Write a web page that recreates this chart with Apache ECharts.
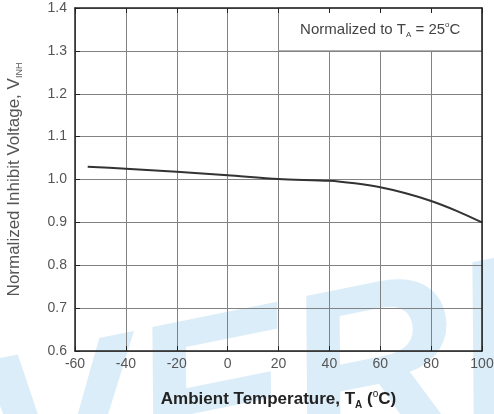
<!DOCTYPE html>
<html>
<head>
<meta charset="utf-8">
<script src="https://cdn.jsdelivr.net/npm/echarts@6/dist/echarts.min.js"></script>
<style>
  html,body{margin:0;padding:0;background:#fff;}
  #chart{width:494px;height:414px;}
</style>
</head>
<body>
<div id="chart"></div>
<script>
// curve
const temps=[-55,-40,-20,0,20,40,50,60,70,80,90,100];
const vinh=[1.030,1.025,1.018,1.010,1.001,0.997,0.991,0.982,0.968,0.950,0.927,0.900];
const xTicks=[-60,-40,-20,0,20,40,60,80,100];
const yTicks=[0.6,0.7,0.8,0.9,1.0,1.1,1.2,1.3,1.4];

const chartDom=document.getElementById('chart');
const myChart=echarts.init(chartDom);

const labelFont={fontFamily:'Liberation Sans',fontSize:14,color:'#555'};

const option={
    animation:false,
    backgroundColor:'#fff',
    graphic:[
        {
            // faint watermark behind the plot
            type:'text',
            z:-10,
            x:-40,
            y:345,
            rotation:0.2,
            style:{
                text:'VERI',
                fill:'#dbedf9',
                font:'italic bold 235px Liberation Sans'
            }
        }
    ],
    grid:{left:75,right:12,top:8,bottom:63,outerBoundsMode:'none'},
    xAxis:[
        {
            type:'value',
            min:-60,max:100,interval:20,
            axisLine:{show:true,onZero:false,lineStyle:{color:'#222',width:1.5}},
            axisTick:{show:true,inside:true,length:5,lineStyle:{color:'#222'}},
            axisLabel:{...labelFont,margin:6,formatter:v=>xTicks.includes(v)?String(v):''},
            splitLine:{show:true,lineStyle:{color:'#828282',width:1}},
            name:'{b|Ambient Temperature, T}{sub|A}{b| (}{sup|o}{b|C)}',
            nameLocation:'middle',
            nameGap:38,
            nameTextStyle:{
                rich:{
                    b:{fontFamily:'Liberation Sans',fontSize:17,fontWeight:'bold',color:'#222'},
                    sub:{fontFamily:'Liberation Sans',fontSize:10,fontWeight:'bold',color:'#222',verticalAlign:'bottom',padding:[11,0,0,0]},
                    sup:{fontFamily:'Liberation Sans',fontSize:10,color:'#222',verticalAlign:'top',padding:[0,0,11,0]}
                }
            }
        },
        {
            type:'value',
            position:'top',
            z:10,
            min:-60,max:100,interval:20,
            axisLine:{show:true,onZero:false,lineStyle:{color:'#222',width:1.5}},
            axisTick:{show:true,inside:true,length:5,lineStyle:{color:'#222'}},
            axisLabel:{show:false},
            splitLine:{show:false}
        }
    ],
    yAxis:[
        {
            type:'value',
            min:0.6,max:1.4,interval:0.1,
            axisLine:{show:true,onZero:false,lineStyle:{color:'#222',width:1.5}},
            axisTick:{show:true,inside:true,length:5,lineStyle:{color:'#222'}},
            axisLabel:{...labelFont,margin:8,formatter:v=>v.toFixed(1)},
            splitLine:{show:true,lineStyle:{color:'#828282',width:1}},
            name:'{t|Normalized Inhibit Voltage, V}{sub|INH}',
            nameLocation:'middle',
            nameGap:51,
            nameTextStyle:{
                rich:{
                    t:{fontFamily:'Liberation Sans',fontSize:17,color:'#555'},
                    sub:{fontFamily:'Liberation Sans',fontSize:9,color:'#555',verticalAlign:'bottom',padding:[11,0,0,0]}
                }
            }
        },
        {
            type:'value',
            position:'right',
            z:10,
            min:0.6,max:1.4,interval:0.1,
            axisLine:{show:true,onZero:false,lineStyle:{color:'#222',width:1.5}},
            axisTick:{show:false},
            axisLabel:{show:false},
            splitLine:{show:false}
        }
    ],
    series:[
        {
            name:'VINH',
            type:'line',
            symbol:'none',
            smooth:0.3,
            lineStyle:{color:'#333',width:2},
            data:temps.map((t,i)=>[t,vinh[i]]),
            markArea:{
                silent:true,
                itemStyle:{color:'#fff',borderColor:'#828282',borderWidth:1},
                label:{
                    show:true,
                    position:'inside',
                    formatter:'{t|Normalized to T}{sub|A}{t| = 25}{sup|o}{t|C}',
                    rich:{
                        t:{fontFamily:'Liberation Sans',fontSize:15,color:'#444'},
                        sub:{fontFamily:'Liberation Sans',fontSize:8,color:'#444',verticalAlign:'bottom',padding:[10,0,0,0]},
                        sup:{fontFamily:'Liberation Sans',fontSize:8,color:'#444',verticalAlign:'top',padding:[0,0,10,0]}
                    }
                },
                data:[[{coord:[20,1.4]},{coord:[100,1.3]}]]
            }
        }
    ]
};

myChart.setOption(option);
</script>
</body>
</html>
